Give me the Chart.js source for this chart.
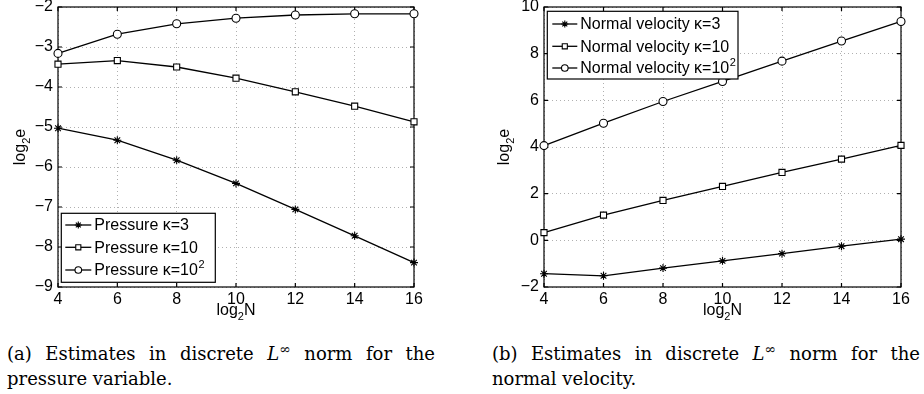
<!DOCTYPE html>
<html>
<head>
<meta charset="utf-8">
<script src="https://cdn.jsdelivr.net/npm/chart.js@4.4.1/dist/chart.umd.min.js"></script>
<style>
  body { margin: 0; background: #fff; width: 924px; height: 394px; position: relative; overflow: hidden; }
  .plot { position: absolute; top: 0; }
  .cap { position: absolute; width: 428px; font-family: "DejaVu Serif", "Liberation Serif", serif; font-size: 18px; line-height: 25px; color: #000; }
  .cap .l1 { text-align: justify; text-align-last: justify; white-space: nowrap; }
  .cap sup { font-size: 14px; line-height: 0; vertical-align: 6px; }
</style>
</head>
<body>
<canvas id="pressureChart" class="plot" width="440" height="325" style="left:0;width:440px;height:325px"></canvas>
<canvas id="velocityChart" class="plot" width="464" height="325" style="left:460px;width:464px;height:325px"></canvas>
<div class="cap" style="left:7px; top:341px">
  <div class="l1">(a) Estimates in discrete <i>L</i><sup>∞</sup> norm for the</div>
  <div>pressure variable.</div>
</div>
<div class="cap" style="left:492px; top:341px">
  <div class="l1">(b) Estimates in discrete <i>L</i><sup>∞</sup> norm for the</div>
  <div>normal velocity.</div>
</div>
<script>
// x values (log2 N)
const logN = [4, 6, 8, 10, 12, 14, 16];

// left panel: pressure error (log2 e)
const pressureK3 = [-5.03, -5.33, -5.83, -6.41, -7.06, -7.72, -8.39];
const pressureK10 = [-3.43, -3.34, -3.50, -3.78, -4.12, -4.48, -4.87];
const pressureK100 = [-3.16, -2.68, -2.42, -2.28, -2.20, -2.17, -2.17];
const pressureLabels = ["Pressure κ=3", "Pressure κ=10", "Pressure κ=10²"];

// right panel: normal velocity error (log2 e)
const velocityK3 = [-1.43, -1.52, -1.19, -0.88, -0.57, -0.25, 0.05];
const velocityK10 = [0.33, 1.08, 1.71, 2.31, 2.91, 3.48, 4.07];
const velocityK100 = [4.06, 5.02, 5.95, 6.81, 7.68, 8.54, 9.38];
const velocityLabels = ["Normal velocity κ=3", "Normal velocity κ=10", "Normal velocity κ=10²"];

const markers = ["star", "rect", "circle"];
const markerSize = [4, 4.3, 4];
const legendMarkerSize = [3.5, 3.6, 3.3];
const FONT = "'Liberation Sans', Arial, sans-serif";

function drawMarker(ctx, style, x, y, r) {
    ctx.beginPath();
    if (style === "circle") {
        ctx.arc(x, y, r, 0, Math.PI * 2);
        ctx.fill();
        ctx.stroke();
    } else if (style === "rect") {
        const s = r * Math.SQRT1_2;
        ctx.rect(x - s, y - s, 2 * s, 2 * s);
        ctx.fill();
        ctx.stroke();
    } else {
        const d = r * Math.SQRT1_2;
        ctx.moveTo(x - r, y); ctx.lineTo(x + r, y);
        ctx.moveTo(x, y - r); ctx.lineTo(x, y + r);
        ctx.moveTo(x - d, y - d); ctx.lineTo(x + d, y + d);
        ctx.moveTo(x - d, y + d); ctx.lineTo(x + d, y - d);
        ctx.stroke();
    }
}

// "log" + subscript + tail, centred on (0, 0) baseline
function drawSubText(ctx, base, sub, tail) {
    ctx.font = "16px " + FONT;
    const w1 = ctx.measureText(base).width;
    const w3 = ctx.measureText(tail).width;
    ctx.font = "11px " + FONT;
    const w2 = ctx.measureText(sub).width;
    const x = -(w1 + w2 + w3) / 2;
    ctx.textAlign = "left";
    ctx.textBaseline = "alphabetic";
    ctx.font = "16px " + FONT;
    ctx.fillText(base, x, 0);
    ctx.font = "11px " + FONT;
    ctx.fillText(sub, x + w1, 5);
    ctx.font = "16px " + FONT;
    ctx.fillText(tail, x + w1 + w2, 0);
}

// legend label, with a raised "2" when it ends in ²
function drawLabel(ctx, text, x, y) {
    ctx.font = "16px " + FONT;
    if (text.endsWith("²")) {
        const base = text.slice(0, -1);
        ctx.fillText(base, x, y);
        const w = ctx.measureText(base).width;
        ctx.font = "11px " + FONT;
        ctx.fillText("2", x + w + 0.5, y - 6);
    } else {
        ctx.fillText(text, x, y);
    }
}

const framePlugin = {
    id: "frame",
    beforeDatasetsDraw(chart) {
        const { ctx, chartArea: a, scales } = chart;
        ctx.save();
        ctx.strokeStyle = "#000";
        ctx.lineWidth = 1.2;
        ctx.strokeRect(a.left, a.top, a.right - a.left, a.bottom - a.top);
        ctx.beginPath();
        scales.x.ticks.forEach((t) => {
            const px = scales.x.getPixelForValue(t.value);
            ctx.moveTo(px, a.bottom); ctx.lineTo(px, a.bottom - 4);
            ctx.moveTo(px, a.top); ctx.lineTo(px, a.top + 4);
        });
        scales.y.ticks.forEach((t) => {
            const py = scales.y.getPixelForValue(t.value);
            ctx.moveTo(a.left, py); ctx.lineTo(a.left + 4, py);
            ctx.moveTo(a.right, py); ctx.lineTo(a.right - 4, py);
        });
        ctx.stroke();
        ctx.restore();
    },
    afterDraw(chart, args, opts) {
        const { ctx, chartArea: a } = chart;
        ctx.save();
        ctx.fillStyle = "#000";
        // axis titles
        ctx.save();
        ctx.translate((a.left + a.right) / 2, 315);
        drawSubText(ctx, "log", "2", "N");
        ctx.restore();
        ctx.save();
        ctx.translate(opts.yTitleX, (a.top + a.bottom) / 2);
        ctx.rotate(-Math.PI / 2);
        drawSubText(ctx, "log", "2", "e");
        ctx.restore();

        // legend box
        const lg = opts.legend;
        const bx = a.left + lg.x, by = a.top + lg.y;
        ctx.fillStyle = "#fff";
        ctx.strokeStyle = "#000";
        ctx.lineWidth = 1.2;
        ctx.fillRect(bx, by, lg.w, lg.h);
        ctx.strokeRect(bx, by, lg.w, lg.h);
        ctx.textAlign = "left";
        ctx.textBaseline = "middle";
        chart.data.datasets.forEach((ds, i) => {
            const ry = by + lg.rows[i];
            ctx.strokeStyle = "#000";
            ctx.lineWidth = 1.3;
            ctx.beginPath();
            ctx.moveTo(bx + lg.line[0], ry);
            ctx.lineTo(bx + lg.line[1], ry);
            ctx.stroke();
            ctx.fillStyle = "#fff";
            ctx.lineWidth = 1.1;
            drawMarker(ctx, markers[i], bx + (lg.line[0] + lg.line[1]) / 2, ry, legendMarkerSize[i]);
            ctx.fillStyle = "#000";
            drawLabel(ctx, ds.label, bx + lg.textX, ry + 1);
        });
        ctx.restore();
    }
};

function makeSeries(labels, series) {
    return series.map((vals, i) => ({
        label: labels[i],
        data: logN.map((n, j) => ({ x: n, y: vals[j] })),
        borderColor: "#000",
        borderWidth: 1.3,
        pointStyle: markers[i],
        pointRadius: markerSize[i],
        pointBorderWidth: 1.1,
        pointBorderColor: "#000",
        pointBackgroundColor: "#fff",
        tension: 0,
        clip: false
    }));
}

function minusSign(v) {
    return String(v).replace("-", "\u2212");
}

function makeOptions(yMin, yMax, yStep, yWidth, padRight, pluginOpts) {
    const tickFont = { family: FONT, size: 16 };
    return {
        responsive: false,
        animation: false,
        layout: { padding: { top: 7, right: padRight, bottom: 0, left: 0 } },
        plugins: {
            legend: { display: false },
            tooltip: { enabled: false },
            frame: pluginOpts
        },
        scales: {
            x: {
                type: "linear",
                min: 4,
                max: 16,
                ticks: { stepSize: 2, padding: 3, color: "#000", font: tickFont },
                grid: { color: "#b0b0b0", lineWidth: 1, drawTicks: false },
                border: { display: false, dash: [1, 3] },
                afterFit: (s) => { s.height = 38; s.paddingLeft = 0; s.paddingRight = 0; }
            },
            y: {
                min: yMin,
                max: yMax,
                ticks: { stepSize: yStep, padding: 5, color: "#000", font: tickFont, callback: minusSign },
                grid: { color: "#b0b0b0", lineWidth: 1, drawTicks: false },
                border: { display: false, dash: [1, 3] },
                afterFit: (s) => { s.width = yWidth; s.paddingTop = 0; s.paddingBottom = 0; }
            }
        }
    };
}

new Chart(document.getElementById("pressureChart"), {
    type: "line",
    data: { datasets: makeSeries(pressureLabels, [pressureK3, pressureK10, pressureK100]) },
    options: makeOptions(-9, -2, 1, 58, 26, {
        yTitleX: 24.5,
        legend: { x: 3.3, y: 206.3, w: 154, h: 69, rows: [11.7, 34, 56.7], line: [4, 30], textX: 33 }
    }),
    plugins: [framePlugin]
});

new Chart(document.getElementById("velocityChart"), {
    type: "line",
    data: { datasets: makeSeries(velocityLabels, [velocityK3, velocityK10, velocityK100]) },
    options: makeOptions(-2, 10, 2, 84, 23, {
        yTitleX: 48.5,
        legend: { x: 3.3, y: 4.3, w: 190.7, h: 67.7, rows: [12.7, 35, 56.7], line: [5, 30], textX: 33 }
    }),
    plugins: [framePlugin]
});
</script>
</body>
</html>
